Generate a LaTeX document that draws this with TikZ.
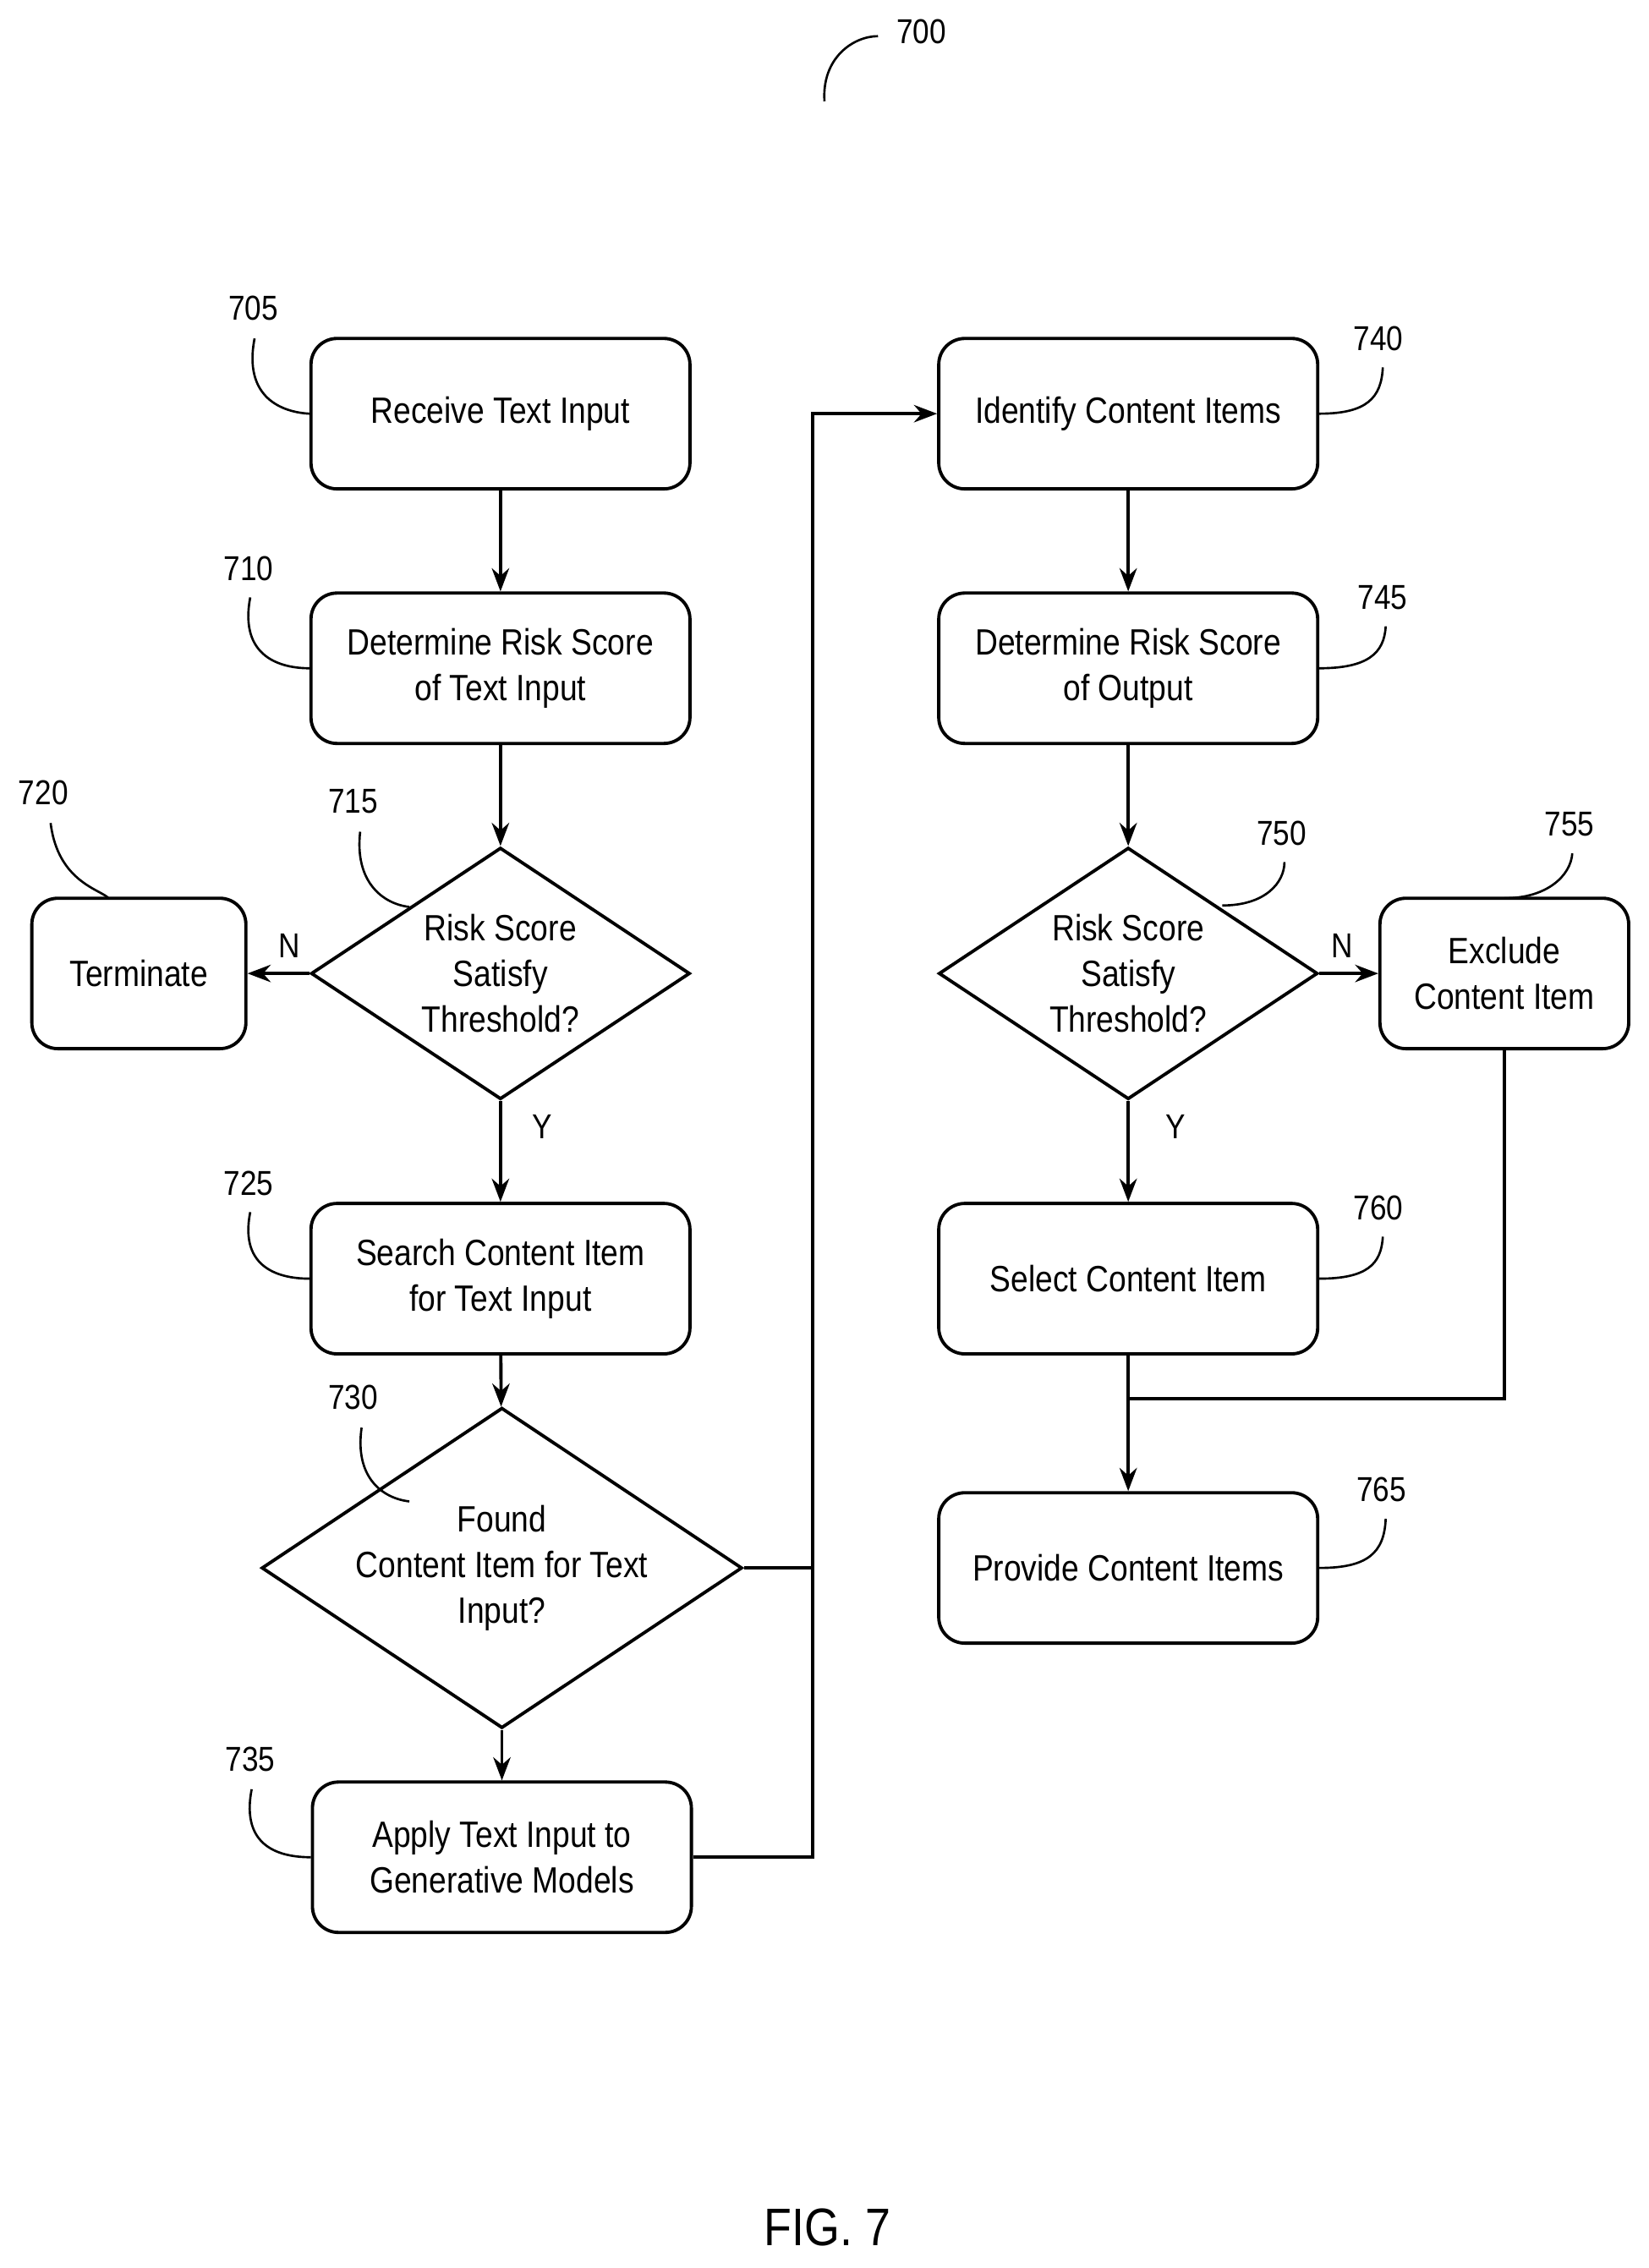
\documentclass[tikz,border=0pt]{standalone}
\usepackage{fontspec}
\setmainfont{Liberation Sans}[FakeStretch=0.86]
\usetikzlibrary{shapes.geometric,arrows.meta}
\begin{document}
\begin{tikzpicture}[x=0.05cm,y=-0.05cm,
  line width=3.2pt,
  box/.style={draw,rounded corners=0.9cm,minimum width=13.1cm,minimum height=5.2cm,align=center,font=\fontsize{36}{45}\selectfont},
  dia/.style={draw,diamond,aspect=1.5,minimum width=13.1cm,minimum height=8.7cm,align=center,inner sep=0pt,font=\fontsize{36}{45}\selectfont},
  arr/.style={-{Stealth[length=0.8cm,width=0.6cm]}},
  lbl/.style={font=\fontsize{34}{40}\selectfont},
  ref/.style={font=\fontsize{34}{40}\selectfont}]
\useasboundingbox (0,0) rectangle (1140,1568);
\node[box] (b705) at (346,286) {Receive Text Input};
\node[box] (b710) at (346,462) {Determine Risk Score\\of Text Input};
\node[dia] (d715) at (346,673) {Risk Score\\Satisfy\\Threshold?};
\node[box,minimum width=7.4cm] (b720) at (96,673) {Terminate};
\node[box] (b725) at (346,884) {Search Content Item\\for Text Input};
\node[dia] (d730) at (347,1084) {Found\\Content Item for Text\\Input?};
\node[box] (b735) at (347,1284) {Apply Text Input to\\Generative Models};
\node[box] (b740) at (780,286) {Identify Content Items};
\node[box] (b745) at (780,462) {Determine Risk Score\\of Output};
\node[dia] (d750) at (780,673) {Risk Score\\Satisfy\\Threshold?};
\node[box,minimum width=8.6cm] (b755) at (1040,673) {Exclude\\Content Item};
\node[box] (b760) at (780,884) {Select Content Item};
\node[box] (b765) at (780,1084) {Provide Content Items};
\coordinate (j1) at (562,1084);
\coordinate (j2) at (562,1284);
\coordinate (j3) at (562,286);
\coordinate (j4) at (1040,967);
\coordinate (j5) at (780,967);
\draw[arr] (b705) -- (b710);
\draw[arr] (b710) -- (d715);
\draw[arr] (d715) -- (b720);
\draw[arr] (d715) -- (b725);
\draw[arr] (b725) -- (d730);
\draw[arr] (d730) -- (b735);
\draw (d730.east) -- (j1);
\draw[arr] (b735.east) -- (j2) -- (j3) -- (b740.west);
\draw[arr] (b740) -- (b745);
\draw[arr] (b745) -- (d750);
\draw[arr] (d750) -- (b755);
\draw[arr] (d750) -- (b760);
\draw[arr] (b760) -- (b765);
\draw (b755.south) -- (j4) -- (j5);
\node[lbl] at (200,654) {N};
\node[lbl] at (375,779) {Y};
\node[lbl] at (928,654) {N};
\node[lbl] at (813,779) {Y};
% reference numbers
\node[ref] at (637,22) {700};
\node[ref] at (175,213) {705};
\node[ref] at (172,393) {710};
\node[ref] at (244,554) {715};
\node[ref] at (30,548) {720};
\node[ref] at (172,818) {725};
\node[ref] at (244,966) {730};
\node[ref] at (173,1216) {735};
\node[ref] at (953,234) {740};
\node[ref] at (956,413) {745};
\node[ref] at (886,576) {750};
\node[ref] at (1085,570) {755};
\node[ref] at (953,835) {760};
\node[ref] at (955,1030) {765};
\begin{scope}[line width=2.2pt]
\draw (570,70) .. controls (568,40) and (590,25) .. (607,25);
\draw (176,234) .. controls (168,275) and (195,285) .. (b705.west);
\draw (173,413) .. controls (165,455) and (195,462) .. (b710.west);
\draw (249,575) .. controls (245,610) and (265,625) .. (283,627);
\draw (35,569) .. controls (40,610) and (70,615) .. (75,621);
\draw (173,838) .. controls (165,878) and (195,884) .. (b725.west);
\draw (250,987) .. controls (245,1022) and (265,1036) .. (283,1038);
\draw (174,1237) .. controls (166,1278) and (195,1284) .. (b735.west);
\draw (b740.east) .. controls (945,286) and (955,275) .. (956,254);
\draw (b745.east) .. controls (945,462) and (957,452) .. (958,433);
\draw (845,626) .. controls (875,626) and (888,610) .. (888,596);
\draw (1040,621) .. controls (1070,621) and (1086,605) .. (1087,590);
\draw (b760.east) .. controls (945,884) and (955,874) .. (956,855);
\draw (b765.east) .. controls (945,1084) and (957,1074) .. (958,1050);
\end{scope}
\node[font=\fontsize{52}{60}\selectfont] at (572,1540) {FIG. 7};
\end{tikzpicture}
\end{document}
